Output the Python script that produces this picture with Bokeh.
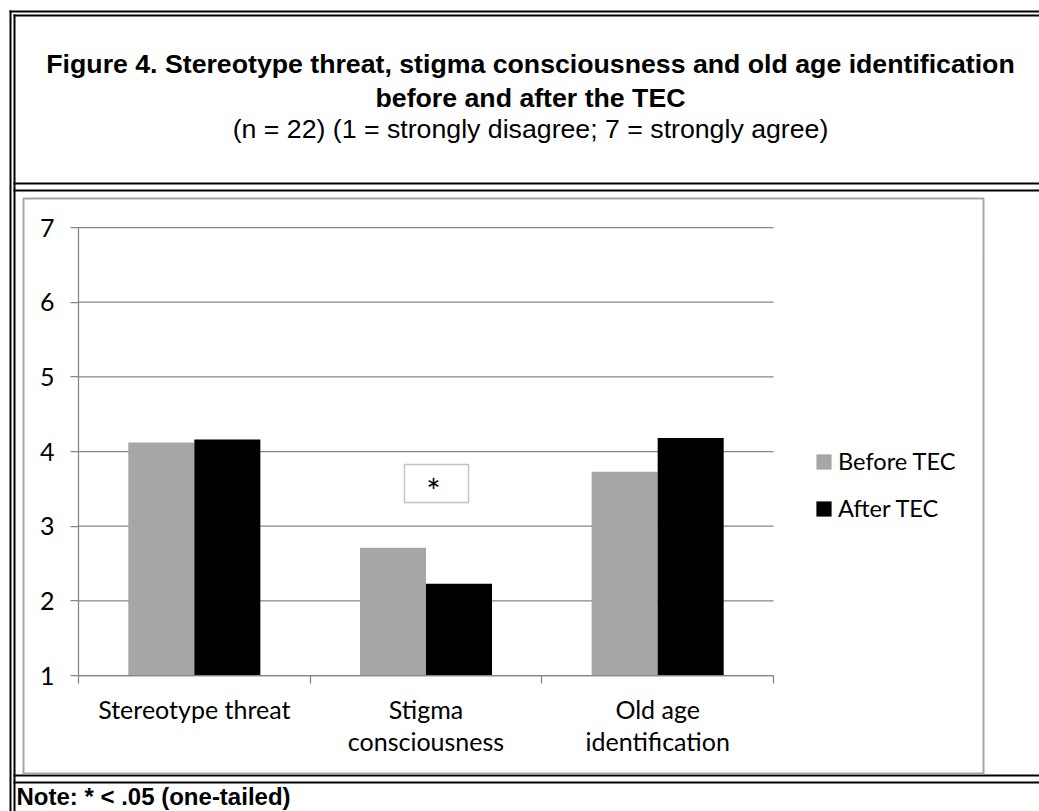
from bokeh.plotting import figure
from bokeh.models import (Range1d, LinearAxis, FixedTicker, BoxAnnotation,
                          Label, Legend, LegendItem, ColumnDataSource)
from bokeh.transform import dodge
from bokeh.embed import file_html
from bokeh.resources import INLINE

# ---- data -------------------------------------------------------------
categories = ["Stereotype threat", "Stigma consciousness", "Old age identification"]
tick_labels = ["Stereotype threat", "Stigma\nconsciousness", "Old age\nidentification"]
before_tec = [4.12, 2.71, 3.73]
after_tec = [4.16, 2.23, 4.18]
y_ticks = [1, 2, 3, 4, 5, 6, 7]
series_names = ["Before TEC", "After TEC"]
series_colors = ["#a6a6a6", "#000000"]

title_lines = [
    "Figure 4. Stereotype threat, stigma consciousness and old age identification",
    "before and after the TEC",
]
subtitle = "(n = 22) (1 = strongly disagree; 7 = strongly agree)"
note_text = "Note: * < .05 (one-tailed)"
sig_mark = "*"

# ---- page geometry (pixels) -----------------------------------------
W, H = 1039, 811
PLOT_L, PLOT_R, PLOT_T, PLOT_B = 78, 773, 227, 675
GRAY = "#868686"
CHART_FONT = "Lato"
CHART_SIZE = "25px"
LEGEND_SIZE = "23.6px"

n_cat = len(categories)
slots = [i + 0.5 for i in range(n_cat)]
source = ColumnDataSource(dict(slot=slots, cat=categories,
                               before=before_tec, after=after_tec))
grid_src = ColumnDataSource(dict(y=y_ticks))

# The frame fills the page; default ranges give page pixels (y downwards).
p = figure(width=W, height=H, output_backend="svg", toolbar_location=None,
           x_range=Range1d(0, W), y_range=Range1d(H, 0),
           x_axis_type=None, y_axis_type=None, min_border=0,
           min_border_left=0, min_border_right=0, min_border_top=0,
           min_border_bottom=0, outline_line_color=None,
           background_fill_color="white", border_fill_color="white")

# chart ranges laid over the plot area of the page
slot_px = (PLOT_R - PLOT_L) / n_cat
val_px = (PLOT_B - PLOT_T) / (y_ticks[-1] - y_ticks[0])
p.extra_x_ranges = {"slot": Range1d(-PLOT_L / slot_px, n_cat + (W - PLOT_R) / slot_px)}
p.extra_y_ranges = {"val": Range1d(y_ticks[0] - (H - PLOT_B) / val_px,
                                   y_ticks[-1] + PLOT_T / val_px)}

# horizontal gridlines across the plot area
p.segment(x0=0, x1=n_cat, y0="y", y1="y", source=grid_src,
          x_range_name="slot", y_range_name="val",
          line_color=GRAY, line_width=1.25)

# value axis
yaxis = LinearAxis(y_range_name="val", ticker=FixedTicker(ticks=y_ticks),
                   fixed_location=PLOT_L, bounds=(y_ticks[0], y_ticks[-1]),
                   axis_line_color=GRAY, axis_line_width=1.25,
                   major_tick_line_color=GRAY, major_tick_line_width=1.25,
                   major_tick_out=8, major_tick_in=0,
                   minor_tick_line_color=None,
                   major_label_text_font=CHART_FONT,
                   major_label_text_font_size=CHART_SIZE,
                   major_label_text_color="black",
                   major_label_standoff=16)
p.add_layout(yaxis, "left")

# category axis: labels at slot centres, tick marks at slot boundaries
xaxis = LinearAxis(x_range_name="slot",
                   ticker=FixedTicker(ticks=slots, minor_ticks=list(range(n_cat + 1))),
                   fixed_location=PLOT_B, bounds=(0, n_cat),
                   major_label_overrides={s: t for s, t in zip(slots, tick_labels)},
                   axis_line_color=GRAY, axis_line_width=1.25,
                   major_tick_line_color=None, major_tick_out=0, major_tick_in=0,
                   minor_tick_line_color=GRAY, minor_tick_line_width=1.25,
                   minor_tick_out=8, minor_tick_in=0,
                   major_label_text_font=CHART_FONT,
                   major_label_text_font_size=CHART_SIZE,
                   major_label_text_line_height=1.08,
                   major_label_text_color="black",
                   major_label_standoff=10)
p.add_layout(xaxis, "below")

# bars
bw = 0.285
r_before = p.vbar(x=dodge("slot", -bw / 2), top="before", bottom=y_ticks[0],
                  width=bw, source=source, x_range_name="slot", y_range_name="val",
                  fill_color=series_colors[0], line_color=None)
r_after = p.vbar(x=dodge("slot", bw / 2), top="after", bottom=y_ticks[0],
                 width=bw, source=source, x_range_name="slot", y_range_name="val",
                 fill_color=series_colors[1], line_color=None)

legend = Legend(items=[LegendItem(label=series_names[0], renderers=[r_before]),
                       LegendItem(label=series_names[1], renderers=[r_after])],
                location=(814, H - 523), orientation="vertical",
                padding=0, margin=0, spacing=17,
                glyph_width=19, glyph_height=19, label_standoff=5, label_height=30,
                label_text_font=CHART_FONT, label_text_font_size=LEGEND_SIZE,
                label_text_color="black",
                border_line_color=None, background_fill_alpha=0)
p.add_layout(legend)


def rule(left, right, top, bottom, color="black"):
    p.add_layout(BoxAnnotation(left=left, right=right, top=top, bottom=bottom,
                               fill_color=color, fill_alpha=1, line_color=None))


def frame_box(left, right, top, bottom, color, width):
    p.add_layout(BoxAnnotation(left=left, right=right, top=top, bottom=bottom,
                               fill_color=None, fill_alpha=0,
                               line_color=color, line_alpha=1, line_width=width))


# table borders (double lines)
rule(9, W + 20, 10, 12)
rule(9, 11, 10, H + 20)
rule(13, W + 20, 14, 16)
rule(13, 15, 14, H + 20)
rule(13, W + 20, 182, 184)
rule(13, W + 20, 189, 191)
rule(13, W + 20, 774, 776)
rule(13, W + 20, 781, 783)

# chart area outline
frame_box(23, 983, 198, 773, "#a6a6a6", 2)

# significance text box
frame_box(404, 468, 464, 502, "#c4c4c4", 1.5)
p.add_layout(Label(x=433, y=490, text=sig_mark, text_align="center",
                   text_baseline="middle", text_font=CHART_FONT,
                   text_font_size="34px", text_color="black"))

# title block
for txt, yy in zip(title_lines, [63, 97]):
    p.add_layout(Label(x=530, y=yy, text=txt, text_align="center",
                       text_baseline="middle", text_font="Liberation Sans",
                       text_font_style="bold", text_font_size="26.7px",
                       text_color="black"))
p.add_layout(Label(x=530, y=128, text=subtitle, text_align="center",
                   text_baseline="middle", text_font="Liberation Sans",
                   text_font_size="26.7px", text_color="black"))

# note row
p.add_layout(Label(x=16, y=796, text=note_text, text_align="left",
                   text_baseline="middle", text_font="Liberation Sans",
                   text_font_style="bold", text_font_size="24px",
                   text_color="black"))

open("out.html", "w").write(file_html(p, INLINE))
